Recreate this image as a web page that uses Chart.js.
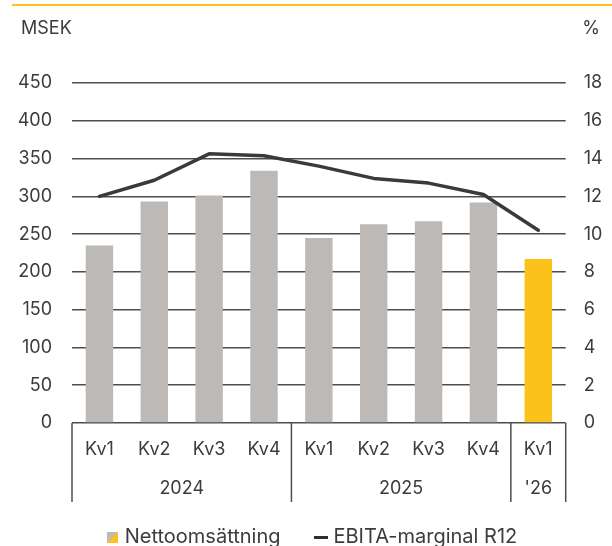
<!DOCTYPE html>
<html>
<head>
<meta charset="utf-8">
<script src="https://cdn.jsdelivr.net/npm/chart.js@4/dist/chart.umd.min.js"></script>
<style>
  html, body { margin: 0; padding: 0; background: #ffffff; }
  #wrap { width: 612px; height: 546px; position: relative; }
</style>
</head>
<body>
<div id="wrap"><canvas id="c" width="612" height="546"></canvas></div>
<script>
// ---- data ----
const quarters = ['Kv1', 'Kv2', 'Kv3', 'Kv4', 'Kv1', 'Kv2', 'Kv3', 'Kv4', 'Kv1'];
const years = ['2024', '2025', "'26"];
const yearGroupSizes = [4, 4, 1];
const netSales = [235, 293, 301, 334, 245, 263, 267, 292, 217];
const ebitaMargin = [12.0, 12.85, 14.25, 14.15, 13.6, 12.95, 12.7, 12.1, 10.2];
const leftTicks = [0, 50, 100, 150, 200, 250, 300, 350, 400, 450];
const rightTicks = [0, 2, 4, 6, 8, 10, 12, 14, 16, 18];
const seriesNames = ['Nettoomsättning', 'EBITA-marginal R12'];
const leftUnit = 'MSEK';
const rightUnit = '%';

// ---- style ----
const GRAY = '#bdb9b6';
const YELLOW = '#fbc21b';
const LINE = '#3a3a3a';
const GRID = '#4d4d4d';
const TEXT = '#3c3c3c';
const FONT = 'Inter, "Noto Sans", sans-serif';
const FS = 18;
const LEG_FS = 20;
const PB = -11;   // bottom layout padding
const PL = 16;    // left layout padding

const barColors = netSales.map((v, i) => i === netSales.length - 1 ? YELLOW : GRAY);

function makeBoxIcon() {
  const c = document.createElement('canvas');
  c.width = 11; c.height = 11;
  const x = c.getContext('2d');
  x.fillStyle = GRAY; x.fillRect(0, 0, 11, 11);
  x.fillStyle = YELLOW;
  x.beginPath(); x.moveTo(0, 11); x.lineTo(11, 0); x.lineTo(11, 11); x.closePath(); x.fill();
  return c;
}
function makeLineIcon() {
  const c = document.createElement('canvas');
  c.width = 14; c.height = 3;
  const x = c.getContext('2d');
  x.fillStyle = '#2f2f2f'; x.fillRect(0, 0, 14, 3);
  return c;
}
const boxIcon = makeBoxIcon();
const lineIcon = makeLineIcon();

const extras = {
  id: 'extras',
  afterDraw(chart) {
    const ctx = chart.ctx;
    const xs = chart.scales.x;
    const area = chart.chartArea;
    ctx.save();
    // top accent line
    ctx.strokeStyle = YELLOW; ctx.lineWidth = 2;
    ctx.beginPath(); ctx.moveTo(12, 5); ctx.lineTo(612, 5); ctx.stroke();
    // units
    ctx.fillStyle = TEXT;
    ctx.font = '18px ' + FONT;
    ctx.textBaseline = 'middle';
    ctx.textAlign = 'left';
    ctx.fillText(leftUnit, 21, 29);
    ctx.textAlign = 'right';
    ctx.fillText(rightUnit, 600, 29);
    // category grouping box
    const bottom = area.bottom + 79;
    ctx.strokeStyle = GRID; ctx.lineWidth = 1.5;
    const bounds = [area.left];
    let idx = 0;
    yearGroupSizes.forEach((n) => {
      idx += n;
      if (idx < quarters.length) {
        bounds.push((xs.getPixelForValue(idx - 1) + xs.getPixelForValue(idx)) / 2);
      }
    });
    bounds.push(area.right);
    bounds.forEach(bx => {
      ctx.beginPath(); ctx.moveTo(bx, area.bottom); ctx.lineTo(bx, bottom); ctx.stroke();
    });
    // year labels
    ctx.font = FS + 'px ' + FONT;
    ctx.textAlign = 'center';
    ctx.fillStyle = TEXT;
    years.forEach((y, g) => {
      ctx.fillText(y, (bounds[g] + bounds[g + 1]) / 2, area.bottom + 66);
    });
    ctx.restore();
  }
};

new Chart(document.getElementById('c'), {
  data: {
    labels: quarters,
    datasets: [
      {
        type: 'bar',
        label: seriesNames[0],
        data: netSales,
        backgroundColor: barColors,
        borderWidth: 0,
        barPercentage: 0.5,
        categoryPercentage: 1.0,
        yAxisID: 'y',
        order: 2
      },
      {
        type: 'line',
        label: seriesNames[1],
        data: ebitaMargin,
        borderColor: LINE,
        borderWidth: 3.5,
        borderJoinStyle: 'round',
        borderCapStyle: 'round',
        pointRadius: 0,
        tension: 0,
        fill: false,
        yAxisID: 'y1',
        order: 1
      }
    ]
  },
  options: {
    responsive: false,
    animation: false,
    devicePixelRatio: 1,
    layout: { padding: { top: 83, left: PL, right: 0, bottom: PB } },
    plugins: {
      tooltip: { enabled: false },
      legend: {
        position: 'bottom',
        labels: {
          usePointStyle: true,
          boxWidth: 4,
          pointStyleWidth: 4,
          padding: 39,
          color: TEXT,
          font: { family: FONT, size: LEG_FS },
          generateLabels() {
            return [
              { text: seriesNames[0], pointStyle: boxIcon, fillStyle: GRAY, strokeStyle: GRAY, lineWidth: 0, fontColor: TEXT, datasetIndex: 0 },
              { text: seriesNames[1], pointStyle: lineIcon, fillStyle: LINE, strokeStyle: LINE, lineWidth: 0, fontColor: TEXT, datasetIndex: 1 }
            ];
          }
        }
      }
    },
    scales: {
      x: {
        type: 'category',
        grid: { display: false, drawTicks: false },
        border: { display: false },
        ticks: { color: TEXT, font: { family: FONT, size: FS }, padding: 16, maxRotation: 0, autoSkip: false },
        afterFit(s) {
          const lh = s.chart.legend ? s.chart.legend.height : 0;
          s.height = s.chart.height - PB - lh - 423;
        }
      },
      y: {
        position: 'left',
        min: 0, max: 450,
        afterBuildTicks(s) { s.ticks = leftTicks.map(v => ({ value: v })); },
        grid: { color: GRID, lineWidth: 1.5, drawTicks: false },
        border: { display: false },
        ticks: { color: TEXT, font: { family: FONT, size: FS }, padding: 20 },
        afterFit(s) { s.width = 72 - PL; }
      },
      y1: {
        position: 'right',
        min: 0, max: 18,
        afterBuildTicks(s) { s.ticks = rightTicks.map(v => ({ value: v })); },
        grid: { display: false, drawTicks: false },
        border: { display: false },
        ticks: { color: TEXT, font: { family: FONT, size: FS }, padding: 18 },
        afterFit(s) { s.width = 46.3; }
      }
    }
  },
  plugins: [extras]
});
</script>
</body>
</html>
